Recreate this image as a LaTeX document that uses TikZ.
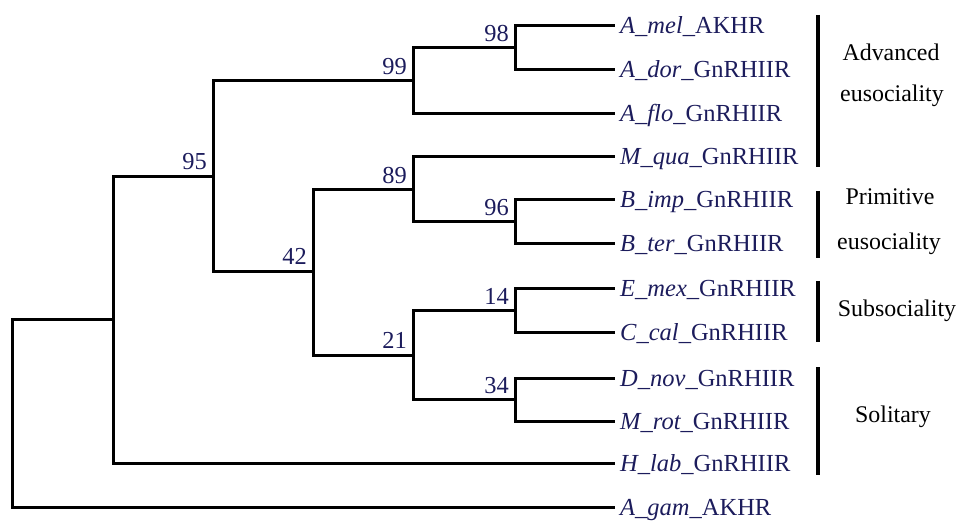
\documentclass[tikz,border=0pt]{standalone}
\usepackage{fontspec}
\setmainfont{Liberation Serif}
\definecolor{taxon}{RGB}{28,28,92}
\begin{document}
\begin{tikzpicture}[x=1bp,y=-1bp,
  branch/.style={line width=3bp, line join=miter},
  leaf/.style={anchor=base west, inner sep=0pt, text=taxon, font=\fontsize{24.6}{28}\selectfont},
  boot/.style={anchor=base east, inner sep=0pt, text=taxon, font=\fontsize{24.5}{28}\selectfont},
  grouplabel/.style={anchor=base, inner sep=0pt, font=\fontsize{24}{28}\selectfont},
  groupbar/.style={line width=4bp}]
\useasboundingbox (0,0) rectangle (958,522);

% leaf tips
\coordinate (mel) at (615,26);
\coordinate (dor) at (615,70);
\coordinate (flo) at (615,114);
\coordinate (qua) at (615,157);
\coordinate (imp) at (615,200);
\coordinate (ter) at (615,244);
\coordinate (mex) at (615,289);
\coordinate (cal) at (615,333);
\coordinate (nov) at (615,378);
\coordinate (rot) at (615,421);
\coordinate (lab) at (615,463);
\coordinate (gam) at (615,507);

% internal nodes
\coordinate (n98) at (515,48);
\coordinate (n99) at (413,81);
\coordinate (n96) at (515,222);
\coordinate (n89) at (413,189.5);
\coordinate (n14) at (515,311);
\coordinate (n34) at (515,399.5);
\coordinate (n21) at (413,355);
\coordinate (n42) at (313,272);
\coordinate (n95) at (213,176.5);
\coordinate (n00) at (113,320);
\coordinate (root) at (12.7,413.5);

% branches
\draw[branch] (n98) |- (mel);  \draw[branch] (n98) |- (dor);
\draw[branch] (n99) |- (n98);  \draw[branch] (n99) |- (flo);
\draw[branch] (n96) |- (imp);  \draw[branch] (n96) |- (ter);
\draw[branch] (n89) |- (qua);  \draw[branch] (n89) |- (n96);
\draw[branch] (n14) |- (mex);  \draw[branch] (n14) |- (cal);
\draw[branch] (n34) |- (nov);  \draw[branch] (n34) |- (rot);
\draw[branch] (n21) |- (n14);  \draw[branch] (n21) |- (n34);
\draw[branch] (n42) |- (n89);  \draw[branch] (n42) |- (n21);
\draw[branch] (n95) |- (n99);  \draw[branch] (n95) |- (n42);
\draw[branch] (n00) |- (n95);  \draw[branch] (n00) |- (lab);
\draw[branch] (root) |- (n00); \draw[branch] (root) |- (gam);

% bootstrap values
\node[boot] (b98) at (509,42) {98};
\node[boot] (b99) at (407,75) {99};
\node[boot] (b96) at (509,216) {96};
\node[boot] (b89) at (407,183.5) {89};
\node[boot] (b14) at (509,305) {14};
\node[boot] (b34) at (509,393.5) {34};
\node[boot] (b21) at (407,349) {21};
\node[boot] (b42) at (307,265) {42};
\node[boot] (b95) at (207,170) {95};

% taxon labels
\node[leaf] (lmel) at (620,34)  {{\itshape A\_mel\_}AKHR};
\node[leaf] (ldor) at (620,78)  {{\itshape A\_dor\_}GnRHIIR};
\node[leaf] (lflo) at (620,122) {{\itshape A\_flo\_}GnRHIIR};
\node[leaf] (lqua) at (620,165) {{\itshape M\_qua\_}GnRHIIR};
\node[leaf] (limp) at (620,208) {{\itshape B\_imp\_}GnRHIIR};
\node[leaf] (lter) at (620,252) {{\itshape B\_ter\_}GnRHIIR};
\node[leaf] (lmex) at (620,297) {{\itshape E\_mex\_}GnRHIIR};
\node[leaf] (lcal) at (620,341) {{\itshape C\_cal\_}GnRHIIR};
\node[leaf] (lnov) at (620,386) {{\itshape D\_nov\_}GnRHIIR};
\node[leaf] (lrot) at (620,429) {{\itshape M\_rot\_}GnRHIIR};
\node[leaf] (llab) at (620,471) {{\itshape H\_lab\_}GnRHIIR};
\node[leaf] (lgam) at (620,515) {{\itshape A\_gam\_}AKHR};

% social-level brackets
\coordinate (g1t) at (818,15);  \coordinate (g1b) at (818,167);
\coordinate (g2t) at (818,191); \coordinate (g2b) at (818,258);
\coordinate (g3t) at (818,281); \coordinate (g3b) at (818,342);
\coordinate (g4t) at (818,367); \coordinate (g4b) at (818,475);
\draw[groupbar] (g1t) -- (g1b);
\draw[groupbar] (g2t) -- (g2b);
\draw[groupbar] (g3t) -- (g3b);
\draw[groupbar] (g4t) -- (g4b);

\node[grouplabel] (adv1) at (891,61)  {Advanced};
\node[grouplabel] (adv2) at (892,102) {eusociality};
\node[grouplabel] (pri1) at (890,205) {Primitive};
\node[grouplabel] (pri2) at (889,250) {eusociality};
\node[grouplabel] (sub)  at (897,317) {Subsociality};
\node[grouplabel] (sol)  at (893,422) {Solitary};
\end{tikzpicture}
\end{document}
